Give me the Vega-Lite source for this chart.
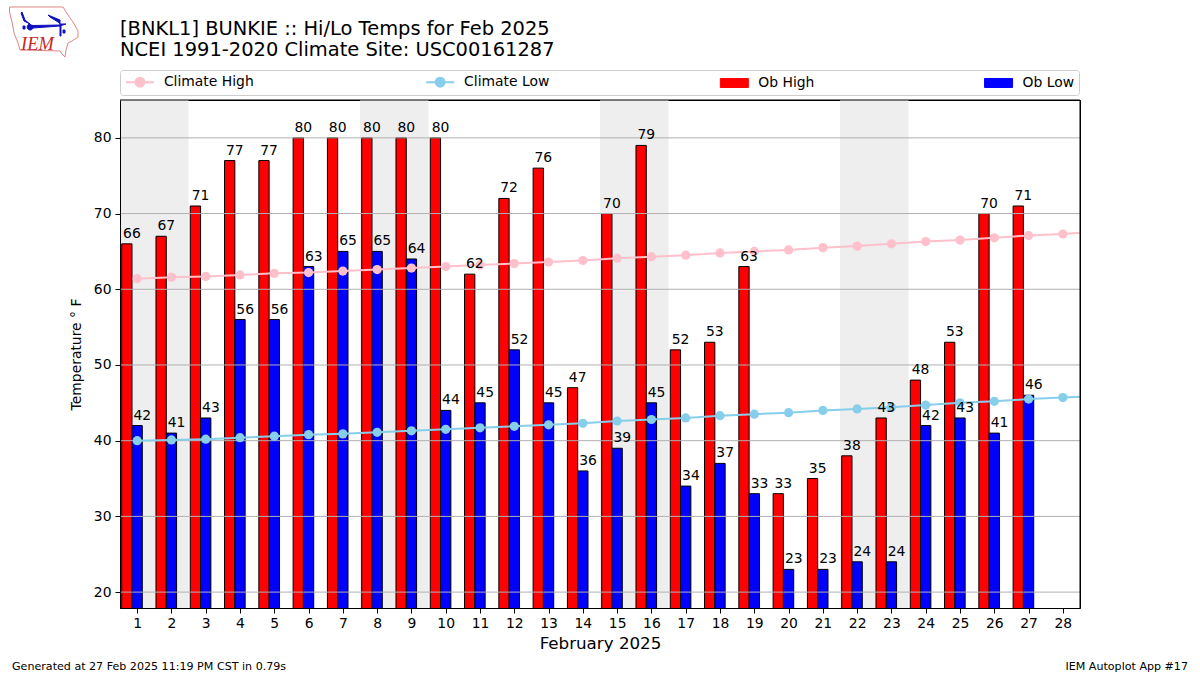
{"$schema":"https://vega.github.io/schema/vega-lite/v6.json","width":960,"height":508,"autosize":{"type":"none"},"padding":{"left":120,"top":100,"right":120,"bottom":67},"background":"white",
"config":{"font":"DejaVu Sans","view":{"stroke":"#000000","strokeWidth":1},"text":{"font":"DejaVu Sans"},"axisX":{"labelOverlap":false,"labelFlush":false}},
"title":{"text":["[BNKL1] BUNKIE :: Hi/Lo Temps for Feb 2025","NCEI 1991-2020 Climate Site: USC00161287"],"anchor":"start","frame":"group","font":"DejaVu Sans","fontSize":19.44,"fontWeight":"normal","lineHeight":21,"color":"#000000","offset":-55},
"datasets":{
"temps":[
{"day":1,"series":"Ob High","temp":66},{"day":2,"series":"Ob High","temp":67},{"day":3,"series":"Ob High","temp":71},{"day":4,"series":"Ob High","temp":77},{"day":5,"series":"Ob High","temp":77},{"day":6,"series":"Ob High","temp":80},{"day":7,"series":"Ob High","temp":80},{"day":8,"series":"Ob High","temp":80},{"day":9,"series":"Ob High","temp":80},{"day":10,"series":"Ob High","temp":80},{"day":11,"series":"Ob High","temp":62},{"day":12,"series":"Ob High","temp":72},{"day":13,"series":"Ob High","temp":76},{"day":14,"series":"Ob High","temp":47},{"day":15,"series":"Ob High","temp":70},{"day":16,"series":"Ob High","temp":79},{"day":17,"series":"Ob High","temp":52},{"day":18,"series":"Ob High","temp":53},{"day":19,"series":"Ob High","temp":63},{"day":20,"series":"Ob High","temp":33},{"day":21,"series":"Ob High","temp":35},{"day":22,"series":"Ob High","temp":38},{"day":23,"series":"Ob High","temp":43},{"day":24,"series":"Ob High","temp":48},{"day":25,"series":"Ob High","temp":53},{"day":26,"series":"Ob High","temp":70},{"day":27,"series":"Ob High","temp":71},
{"day":1,"series":"Ob Low","temp":42},{"day":2,"series":"Ob Low","temp":41},{"day":3,"series":"Ob Low","temp":43},{"day":4,"series":"Ob Low","temp":56},{"day":5,"series":"Ob Low","temp":56},{"day":6,"series":"Ob Low","temp":63},{"day":7,"series":"Ob Low","temp":65},{"day":8,"series":"Ob Low","temp":65},{"day":9,"series":"Ob Low","temp":64},{"day":10,"series":"Ob Low","temp":44},{"day":11,"series":"Ob Low","temp":45},{"day":12,"series":"Ob Low","temp":52},{"day":13,"series":"Ob Low","temp":45},{"day":14,"series":"Ob Low","temp":36},{"day":15,"series":"Ob Low","temp":39},{"day":16,"series":"Ob Low","temp":45},{"day":17,"series":"Ob Low","temp":34},{"day":18,"series":"Ob Low","temp":37},{"day":19,"series":"Ob Low","temp":33},{"day":20,"series":"Ob Low","temp":23},{"day":21,"series":"Ob Low","temp":23},{"day":22,"series":"Ob Low","temp":24},{"day":23,"series":"Ob Low","temp":24},{"day":24,"series":"Ob Low","temp":42},{"day":25,"series":"Ob Low","temp":43},{"day":26,"series":"Ob Low","temp":41},{"day":27,"series":"Ob Low","temp":46},
{"day":1,"series":"Climate High","temp":61.4},{"day":2,"series":"Climate High","temp":61.6},{"day":3,"series":"Climate High","temp":61.7},{"day":4,"series":"Climate High","temp":61.9},{"day":5,"series":"Climate High","temp":62.1},{"day":6,"series":"Climate High","temp":62.2},{"day":7,"series":"Climate High","temp":62.4},{"day":8,"series":"Climate High","temp":62.6},{"day":9,"series":"Climate High","temp":62.8},{"day":10,"series":"Climate High","temp":63.0},{"day":11,"series":"Climate High","temp":63.2},{"day":12,"series":"Climate High","temp":63.4},{"day":13,"series":"Climate High","temp":63.6},{"day":14,"series":"Climate High","temp":63.8},{"day":15,"series":"Climate High","temp":64.1},{"day":16,"series":"Climate High","temp":64.3},{"day":17,"series":"Climate High","temp":64.5},{"day":18,"series":"Climate High","temp":64.8},{"day":19,"series":"Climate High","temp":65.0},{"day":20,"series":"Climate High","temp":65.2},{"day":21,"series":"Climate High","temp":65.5},{"day":22,"series":"Climate High","temp":65.7},{"day":23,"series":"Climate High","temp":66.0},{"day":24,"series":"Climate High","temp":66.3},{"day":25,"series":"Climate High","temp":66.5},{"day":26,"series":"Climate High","temp":66.8},{"day":27,"series":"Climate High","temp":67.1},{"day":28,"series":"Climate High","temp":67.3},{"day":29,"series":"Climate High","temp":67.6},
{"day":1,"series":"Climate Low","temp":40.0},{"day":2,"series":"Climate Low","temp":40.1},{"day":3,"series":"Climate Low","temp":40.2},{"day":4,"series":"Climate Low","temp":40.4},{"day":5,"series":"Climate Low","temp":40.6},{"day":6,"series":"Climate Low","temp":40.8},{"day":7,"series":"Climate Low","temp":40.9},{"day":8,"series":"Climate Low","temp":41.1},{"day":9,"series":"Climate Low","temp":41.3},{"day":10,"series":"Climate Low","temp":41.5},{"day":11,"series":"Climate Low","temp":41.7},{"day":12,"series":"Climate Low","temp":41.9},{"day":13,"series":"Climate Low","temp":42.1},{"day":14,"series":"Climate Low","temp":42.3},{"day":15,"series":"Climate Low","temp":42.6},{"day":16,"series":"Climate Low","temp":42.8},{"day":17,"series":"Climate Low","temp":43.0},{"day":18,"series":"Climate Low","temp":43.3},{"day":19,"series":"Climate Low","temp":43.5},{"day":20,"series":"Climate Low","temp":43.7},{"day":21,"series":"Climate Low","temp":44.0},{"day":22,"series":"Climate Low","temp":44.2},{"day":23,"series":"Climate Low","temp":44.4},{"day":24,"series":"Climate Low","temp":44.7},{"day":25,"series":"Climate Low","temp":45.0},{"day":26,"series":"Climate Low","temp":45.2},{"day":27,"series":"Climate Low","temp":45.5},{"day":28,"series":"Climate Low","temp":45.7},{"day":29,"series":"Climate Low","temp":45.9}],
"weekends":[{"start":0.5,"end":2.5},{"start":7.5,"end":9.5},{"start":14.5,"end":16.5},{"start":21.5,"end":23.5}],
"grid":[{"level":20},{"level":30},{"level":40},{"level":50},{"level":60},{"level":70},{"level":80}],
"one":[{"item":"one"}]},
"layer":[
{"data":{"name":"weekends"},"mark":{"type":"rect","color":"#eeeeee"},"encoding":{"x":{"field":"start","type":"quantitative","scale":{"domain":[0.5,28.5],"nice":false,"zero":false,"padding":0},"axis":{"values":[1,2,3,4,5,6,7,8,9,10,11,12,13,14,15,16,17,18,19,20,21,22,23,24,25,26,27,28],"tickCount":28,"format":"d","title":"February 2025","titleFontSize":16.7,"titleFontWeight":"normal","titleColor":"#000000","titlePadding":6,"labelFontSize":13.9,"labelColor":"#000000","labelOverlap":false,"labelFlush":false,"labelPadding":3,"tickColor":"#000000","tickSize":5,"domainColor":"#000000","grid":false,"zindex":1}},"x2":{"field":"end"}}},
{"data":{"name":"temps"},"transform":[{"filter":"datum.series === 'Ob High'"}],"mark":{"type":"bar","size":10.3,"xOffset":-10.3,"stroke":"#000000","strokeWidth":1,"clip":true},"encoding":{"x":{"field":"day","type":"quantitative","scale":{"domain":[0.5,28.5],"nice":false,"zero":false,"padding":0}},"y":{"field":"temp","type":"quantitative","scale":{"domain":[17.9,85],"nice":false,"zero":false},"axis":{"values":[20,30,40,50,60,70,80],"title":"Temperature ° F","titleFontSize":13.9,"titleFontWeight":"normal","titleColor":"#000000","titlePadding":10,"labelFontSize":13.9,"labelColor":"#000000","labelPadding":4,"tickColor":"#000000","tickSize":5,"domainColor":"#000000","grid":false,"zindex":1}},"color":{"field":"series","type":"nominal","scale":{"domain":["Climate High","Climate Low","Ob High","Ob Low"],"range":["#ffc0cb","#87ceeb","#ff0000","#0000ff"]},"legend":{"orient":"none","legendX":0,"legendY":-30,"direction":"horizontal","columns":4,"title":null,"gridAlign":"each","columnPadding":167.2,"rowPadding":0,"padding":4,"symbolSize":196,"labelOffset":26,"labelFontSize":13.9,"labelColor":"#000000","labelFont":"DejaVu Sans","strokeColor":"#cccccc","cornerRadius":3,"fillColor":"#ffffff","encoding":{"labels":{"dy":{"value":1}},"symbols":{"shape":{"value":{"signal":"(datum.value==='Climate High' || datum.value==='Climate Low') ? 'M-0.714,0.14L3.286,0.14M1.926,0.14A0.64,0.64,0,1,1,0.646,0.14A0.64,0.64,0,1,1,1.926,0.14Z' : 'M-0.714,-0.5L3.286,-0.5L3.286,0.78L-0.714,0.78Z'"}},"stroke":{"value":{"signal":"datum.value==='Climate High' ? '#ffc0cb' : datum.value==='Climate Low' ? '#87ceeb' : '#000000'"}},"strokeWidth":{"value":{"signal":"(datum.value==='Climate High' || datum.value==='Climate Low') ? 2 : 1"}},"opacity":{"value":1},"fillOpacity":{"value":1}}}}}}},
{"data":{"name":"temps"},"transform":[{"filter":"datum.series === 'Ob Low'"}],"mark":{"type":"bar","size":10.3,"stroke":"#000000","strokeWidth":1,"clip":true},"encoding":{"x":{"field":"day","type":"quantitative","scale":{"domain":[0.5,28.5],"nice":false,"zero":false,"padding":0}},"y":{"field":"temp","type":"quantitative"},"color":{"field":"series","type":"nominal"}}},
{"data":{"name":"grid"},"mark":{"type":"rule","color":"#b0b0b0","strokeWidth":1},"encoding":{"y":{"field":"level","type":"quantitative"}}},
{"data":{"name":"temps"},"transform":[{"filter":"datum.series === 'Climate High' || datum.series === 'Climate Low'"}],"mark":{"type":"line","strokeWidth":2,"clip":true,"point":{"filled":true,"size":85,"opacity":1}},"encoding":{"x":{"field":"day","type":"quantitative","scale":{"domain":[0.5,28.5],"nice":false,"zero":false,"padding":0}},"y":{"field":"temp","type":"quantitative"},"color":{"field":"series","type":"nominal","legend":null}}},
{"data":{"name":"one"},"mark":{"type":"rule","color":"#000000","strokeWidth":1},"encoding":{"y":{"datum":85}}},
{"data":{"name":"one"},"mark":{"type":"rule","color":"#000000","strokeWidth":1},"encoding":{"x":{"datum":28.5,"scale":{"domain":[0.5,28.5],"nice":false,"zero":false,"padding":0}}}},
{"data":{"name":"temps"},"transform":[{"filter":"datum.series === 'Ob High'"}],"mark":{"type":"text","align":"center","baseline":"alphabetic","dx":-5.2,"dy":-6,"fontSize":13.9,"color":"#000000","clip":false},"encoding":{"x":{"field":"day","type":"quantitative","scale":{"domain":[0.5,28.5],"nice":false,"zero":false,"padding":0}},"y":{"field":"temp","type":"quantitative"},"text":{"field":"temp","type":"quantitative","format":"d"}}},
{"data":{"name":"temps"},"transform":[{"filter":"datum.series === 'Ob Low'"}],"mark":{"type":"text","align":"center","baseline":"alphabetic","dx":5.2,"dy":-6,"fontSize":13.9,"color":"#000000"},"encoding":{"x":{"field":"day","type":"quantitative","scale":{"domain":[0.5,28.5],"nice":false,"zero":false,"padding":0}},"y":{"field":"temp","type":"quantitative"},"text":{"field":"temp","type":"quantitative","format":"d"}}},
{"data":{"name":"one"},"mark":{"type":"text","align":"left","baseline":"alphabetic","dx":-108,"dy":62,"fontSize":11.1,"color":"#000000","text":"Generated at 27 Feb 2025 11:19 PM CST in 0.79s"},"encoding":{"x":{"datum":0.5,"scale":{"domain":[0.5,28.5],"nice":false,"zero":false,"padding":0}},"y":{"datum":17.9}}},
{"data":{"name":"one"},"mark":{"type":"text","align":"right","baseline":"alphabetic","dx":108,"dy":62,"fontSize":11.1,"color":"#000000","text":"IEM Autoplot App #17"},"encoding":{"x":{"datum":28.5,"scale":{"domain":[0.5,28.5],"nice":false,"zero":false,"padding":0}},"y":{"datum":17.9}}},
{"data":{"name":"one"},"mark":{"type":"point","size":4,"xOffset":-120,"yOffset":-100,"fill":null,"stroke":"#e08585","strokeWidth":1,"opacity":1,"shape":"M9.5,7L63,7L68,15L73,22L78,31L78,37L72,41L68,43L66,50L65,57L62,54L60,51L20,50L18,43L14,33L12,22L9.5,12Z"},"encoding":{"x":{"datum":0.5,"scale":{"domain":[0.5,28.5],"nice":false,"zero":false,"padding":0}},"y":{"datum":85}}},
{"data":{"name":"one"},"mark":{"type":"point","size":4,"xOffset":-120,"yOffset":-100,"fill":"#1010c0","filled":true,"stroke":"#1010c0","strokeWidth":1,"opacity":1,"shape":"M22,12L25,20L31,25L33,25.5L60,25L60,20L48,15L50,17L58,22L60,24L66,24L61,25.5L61,36L60,36L60,26L33,28A3,3,0,1,1,30,24L24,21L21,13ZM23,26L25,26L25,29L23,29ZM63,30L65,30L65,33L63,33Z"},"encoding":{"x":{"datum":0.5,"scale":{"domain":[0.5,28.5],"nice":false,"zero":false,"padding":0}},"y":{"datum":85}}},
{"data":{"name":"one"},"mark":{"type":"text","align":"left","baseline":"alphabetic","dx":-99,"dy":-50,"font":"Liberation Serif","fontStyle":"italic","fontSize":18.5,"color":"#c82828","text":"IEM"},"encoding":{"x":{"datum":0.5,"scale":{"domain":[0.5,28.5],"nice":false,"zero":false,"padding":0}},"y":{"datum":85}}}
]}
